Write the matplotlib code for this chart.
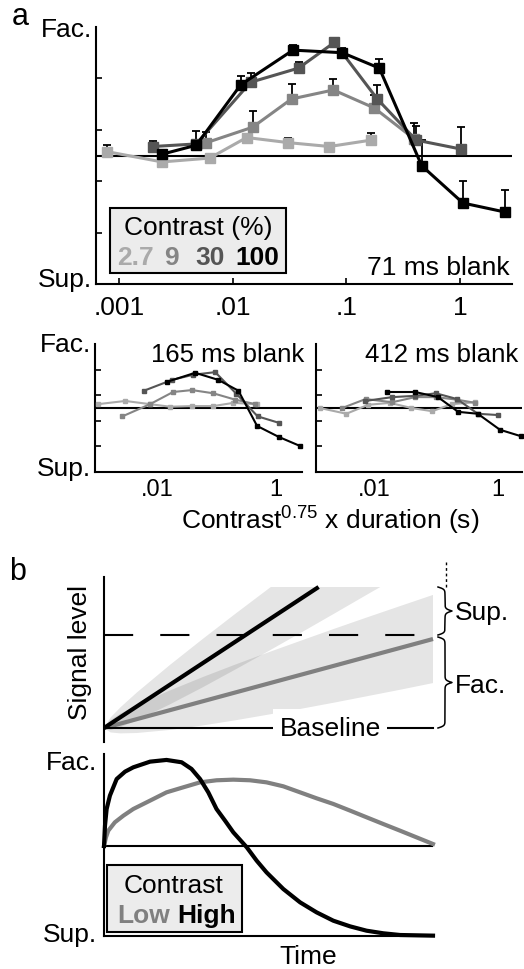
import numpy as np
import matplotlib
matplotlib.use('Agg')
import matplotlib.pyplot as plt
from matplotlib.patches import Rectangle
from matplotlib.ticker import NullLocator

plt.rcParams['font.family'] = ['Liberation Sans', 'DejaVu Sans']
plt.rcParams['font.size'] = 19
plt.rcParams['mathtext.fontset'] = 'custom'
plt.rcParams['mathtext.rm'] = 'Liberation Sans'

W, H = 524, 970

# colours for the four contrasts
c_colors = ['#aaaaaa', '#858585', '#555555', '#000000']
c_labels = ['2.7', '9', '30', '100']

# ---- panel a, 71 ms blank (x: contrast^0.75 x duration, y: normalised effect)
x71_027 = [0.00079, 0.0024, 0.0063, 0.0133, 0.031, 0.071, 0.166]
y71_027 = [0.03, -0.05, -0.02, 0.14, 0.10, 0.07, 0.12]
e71_027 = [0.055, 0.02, 0.025, 0.03, 0.04, 0.03, 0.055]

x71_09 = [0.0059, 0.015, 0.033, 0.077, 0.176, 0.394]
y71_09 = [0.10, 0.22, 0.44, 0.51, 0.37, 0.13]
e71_09 = [0.08, 0.125, 0.12, 0.085, 0.10, 0.12]

x71_30 = [0.0020, 0.0048, 0.0144, 0.038, 0.0785, 0.187, 0.41, 1.02]
y71_30 = [0.07, 0.09, 0.57, 0.68, 0.88, 0.44, 0.12, 0.05]
e71_30 = [0.04, 0.10, 0.07, 0.05, 0.03, 0.11, 0.11, 0.17]

x71_100 = [0.0024, 0.0048, 0.0118, 0.034, 0.092, 0.195, 0.46, 1.06, 2.48]
y71_100 = [0.01, 0.08, 0.55, 0.82, 0.80, 0.68, -0.08, -0.37, -0.44]
e71_100 = [0.03, 0.03, 0.07, 0.04, 0.04, 0.07, 0.20, 0.17, 0.17]

# ---- 165 ms blank
x165_027 = [0.0010, 0.0029, 0.0076, 0.0166, 0.039, 0.089, 0.195, 0.48]
y165_027 = [0.06, 0.11, 0.06, 0.02, 0.03, 0.03, 0.08, 0.06]
x165_09 = [0.0026, 0.0076, 0.0186, 0.039, 0.089, 0.21, 0.46]
y165_09 = [-0.13, 0.06, 0.25, 0.28, 0.23, 0.13, 0.06]
x165_30 = [0.0060, 0.018, 0.041, 0.096, 0.22, 0.50, 1.13]
y165_30 = [0.27, 0.44, 0.52, 0.56, 0.22, -0.13, -0.23]
x165_100 = [0.0148, 0.044, 0.108, 0.237, 0.49, 1.13, 2.56]
y165_100 = [0.41, 0.55, 0.44, 0.27, -0.28, -0.45, -0.59]

# ---- 412 ms blank
x412_027 = [0.0013, 0.0035, 0.0079, 0.0178, 0.040, 0.087, 0.18, 0.44]
y412_027 = [0.0, -0.09, 0.05, 0.08, 0.0, -0.05, 0.06, 0.09]
x412_09 = [0.0030, 0.0072, 0.0195, 0.046, 0.10, 0.22, 0.44]
y412_09 = [0.0, 0.14, 0.09, 0.17, 0.17, 0.13, 0.08]
x412_30 = [0.0071, 0.0195, 0.046, 0.10, 0.22, 0.48, 1.02]
y412_30 = [0.11, 0.17, 0.19, 0.23, 0.14, -0.09, -0.11]
x412_100 = [0.0158, 0.046, 0.108, 0.23, 0.48, 1.10, 2.4]
y412_100 = [0.25, 0.25, 0.17, -0.06, -0.09, -0.34, -0.44]

# ---- panel b, schematic signal (threshold = 1)
slope_low = 0.957
slope_high = 2.324
sig_top = 1.516
# noise bands (edges of the grey wedges)
band_low_t = [0, 0.02, 0.05, 0.1, 0.2, 0.3, 0.4, 0.5, 0.6, 0.7, 0.8, 0.9, 1.0]
band_low_hi = [0, 0.086, 0.154, 0.246, 0.403, 0.547, 0.683, 0.814, 0.941, 1.067, 1.190, 1.311, 1.431]
band_low_lo = [0, -0.048, -0.058, -0.054, -0.021, 0.027, 0.083, 0.144, 0.207, 0.273, 0.342, 0.411, 0.483]
band_high_t_hi = [0, 0.02, 0.05, 0.1, 0.2, 0.3, 0.4, 0.507]
band_high_hi = [0, 0.113, 0.222, 0.382, 0.677, 0.957, 1.230, 1.516]
band_high_t_lo = [0, 0.02, 0.05, 0.1, 0.2, 0.3, 0.4, 0.5, 0.6, 0.7, 0.8, 0.84]
band_high_lo = [0, -0.021, 0.010, 0.082, 0.253, 0.437, 0.630, 0.827, 1.027, 1.230, 1.435, 1.516]

# time courses of the effect
t_high = [0, 0.003, 0.008, 0.018, 0.0385, 0.064, 0.089, 0.140, 0.190, 0.236, 0.266,
          0.292, 0.317, 0.342, 0.368, 0.393, 0.434, 0.464, 0.494, 0.545, 0.596,
          0.646, 0.697, 0.748, 0.798, 0.849, 0.900, 1.0]
eff_high = [0, 0.226, 0.411, 0.56, 0.744, 0.826, 0.874, 0.937, 0.956, 0.93, 0.856,
            0.744, 0.596, 0.411, 0.281, 0.152, -0.015, -0.163, -0.293, -0.478, -0.626,
            -0.737, -0.83, -0.893, -0.941, -0.97, -0.989, -0.996]
t_low = [0, 0.006, 0.013, 0.033, 0.059, 0.089, 0.140, 0.190, 0.241, 0.292, 0.342,
         0.393, 0.444, 0.494, 0.545, 0.596, 0.646, 0.697, 0.748, 0.798, 0.849,
         0.900, 0.950, 1.0]
eff_low = [0, 0.096, 0.170, 0.263, 0.337, 0.411, 0.504, 0.596, 0.652, 0.707, 0.730,
           0.737, 0.730, 0.707, 0.663, 0.596, 0.530, 0.467, 0.393, 0.319, 0.244,
           0.170, 0.096, 0.022]


fig = plt.figure(figsize=(W / 100, H / 100), dpi=100)


def add_ax(l, t, r, b):
    # axes placed by pixel box
    return fig.add_axes([l / W, 1 - b / H, (r - l) / W, (b - t) / H])


def base_style(ax):
    for s in ['top', 'right']:
        ax.spines[s].set_visible(False)
    for s in ['left', 'bottom']:
        ax.spines[s].set_linewidth(1.5)
    ax.tick_params(direction='in', length=4, width=1.2)


# ---------------- panel a, top
ax = add_ax(96, 28, 512, 285)
base_style(ax)
ax.set_xscale('log')
ax.set_xlim(10 ** -3.2, 10 ** 0.456)
ax.set_ylim(-1, 1)
ax.axhline(0, color='k', lw=1.5, zorder=1)
series71 = [(x71_027, y71_027, e71_027), (x71_09, y71_09, e71_09),
            (x71_30, y71_30, e71_30), (x71_100, y71_100, e71_100)]
for (x, y, e), c in zip(series71, c_colors):
    ax.errorbar(x, y, yerr=[np.zeros(len(e)), e], fmt='none', ecolor='k',
                elinewidth=1.3, capsize=3, capthick=1.3, zorder=2)
    ax.plot(x, y, '-s', color=c, lw=2.2, ms=6.5, zorder=3, clip_on=False)
ax.set_xticks([0.001, 0.01, 0.1, 1])
ax.set_xticklabels(['.001', '.01', '.1', '1'])
ax.xaxis.set_minor_locator(NullLocator())
ax.set_yticks([-0.6, -0.2, 0.2, 0.6])
ax.set_yticklabels([])
ax.tick_params(axis='x', labelsize=19, pad=8)

# ---------------- panel a, bottom two
for (l, r, xl), data, title in [
        ((95, 302, (10 ** -3.05, 10 ** 0.45)),
         [(x165_027, y165_027), (x165_09, y165_09), (x165_30, y165_30), (x165_100, y165_100)],
         '165 ms blank'),
        ((316, 522, (10 ** -2.95, 10 ** 0.4)),
         [(x412_027, y412_027), (x412_09, y412_09), (x412_30, y412_30), (x412_100, y412_100)],
         '412 ms blank')]:
    axs = add_ax(l, 345, r, 473)
    base_style(axs)
    axs.set_xscale('log')
    axs.set_xlim(*xl)
    axs.set_ylim(-1, 1)
    axs.axhline(0, color='k', lw=1.5, zorder=1)
    for (x, y), c in zip(data, c_colors):
        axs.plot(x, y, '-s', color=c, lw=1.5, ms=3.5, zorder=3, clip_on=False)
    axs.set_xticks([0.01, 1])
    axs.set_xticklabels(['.01', '1'])
    axs.xaxis.set_minor_locator(NullLocator())
    axs.set_yticks([-0.6, -0.2, 0.2, 0.6])
    axs.set_yticklabels([])
    axs.tick_params(axis='x', labelsize=17, pad=4, length=0)

# ---------------- panel b, signal schematic
axb = add_ax(104, 578, 440, 743)
for s in ['top', 'right', 'bottom']:
    axb.spines[s].set_visible(False)
axb.spines['left'].set_linewidth(1.5)
axb.set_xticks([])
axb.set_yticks([])
axb.set_xlim(0, 336 / 329)
axb.set_ylim(-14 / 93, 151 / 93)
axb.fill(band_low_t + band_low_t[::-1], band_low_hi + band_low_lo[::-1],
         color='k', alpha=0.1, lw=0)
axb.fill(band_high_t_hi + band_high_t_lo[::-1], band_high_hi + band_high_lo[::-1],
         color='k', alpha=0.1, lw=0)
axb.plot([0, 1], [0, slope_low], color='#808080', lw=3, solid_capstyle='butt')
axb.plot([0, sig_top / slope_high], [0, sig_top], color='k', lw=3, solid_capstyle='butt')
axb.plot([0, 0.948], [1, 1], color='k', lw=1.5, dashes=(14, 13))
axb.plot([0, 1], [0, 0], color='k', lw=1.5)
axb.text(0.687, 0, 'Baseline', ha='center', va='center', fontsize=19,
         bbox=dict(boxstyle='square,pad=0.25', fc='white', ec='none'))

# ---------------- panel b, effect time course
axt = add_ax(104, 755, 433, 937)
for s in ['top', 'right']:
    axt.spines[s].set_visible(False)
for s in ['left', 'bottom']:
    axt.spines[s].set_linewidth(1.5)
axt.set_xticks([])
axt.set_yticks([])
axt.set_xlim(0, 1)
axt.set_ylim(-1.0, 1.022)
axt.axhline(0, color='k', lw=1.5)
axt.plot(t_low, eff_low, color='#808080', lw=3, clip_on=False, solid_joinstyle='round')
axt.plot(t_high, eff_high, color='k', lw=3, clip_on=False, solid_joinstyle='round')

# ---------------- overlay for labels in pixel units
ov = fig.add_axes([0, 0, 1, 1], zorder=10)
ov.set_xlim(0, W)
ov.set_ylim(H, 0)
ov.axis('off')
ov.patch.set_alpha(0)

ov.text(20, 17, 'a', fontsize=22, ha='center', va='center')
ov.text(18, 572, 'b', fontsize=22, ha='center', va='center')
for x, y, s in [(92, 37, 'Fac.'), (92, 287, 'Sup.'), (91, 352, 'Fac.'), (91, 476, 'Sup.'),
                (97, 770, 'Fac.'), (97, 942, 'Sup.')]:
    ov.text(x, y, s, ha='right', va='baseline')
ov.text(510, 275, '71 ms blank', ha='right', va='baseline')
ov.text(304, 362, '165 ms blank', ha='right', va='baseline', fontsize=18.5)
ov.text(518, 362, '412 ms blank', ha='right', va='baseline', fontsize=18.5)
ov.text(330, 529, r'Contrast$^{0.75}$ x duration (s)', ha='center', va='baseline')

# legend box, panel a
ov.add_patch(Rectangle((110, 209), 176, 65, fc='#ececec', ec='k', lw=1.5))
ov.text(198, 235, 'Contrast (%)', ha='center', va='baseline')
for x, s, c in zip([117, 164, 195, 235], c_labels, c_colors):
    ov.text(x, 265, s, ha='left', va='baseline', color=c, fontweight='bold')

# signal panel labels
ov.text(80, 653, 'Signal level', rotation=90, ha='center', va='center')
ov.text(455, 620, 'Sup.', ha='left', va='baseline')
ov.text(455, 693, 'Fac.', ha='left', va='baseline')
ov.plot([446, 446], [563, 588], color='k', lw=1, dashes=(2, 2))


def brace(x, y0, y1, w=14, beta=0.9):
    L = y1 - y0
    u = np.linspace(0, L / 2, 200)
    half = 1 / (1 + np.exp(-beta * u)) + 1 / (1 + np.exp(-beta * (u - L / 2))) - 0.5
    xs = x + w * np.concatenate([half, half[::-1]])
    ys = np.concatenate([y0 + u, y1 - u[::-1]])
    ov.plot(xs, ys, color='k', lw=1.1)


brace(438, 588, 636)
brace(438, 638, 729)

# legend box, panel b
ov.add_patch(Rectangle((107, 866), 135, 67, fc='#ececec', ec='k', lw=1.5))
ov.text(174, 893, 'Contrast', ha='center', va='baseline')
ov.text(117, 923, 'Low', ha='left', va='baseline', color='#808080', fontweight='bold')
ov.text(177, 923, 'High', ha='left', va='baseline', color='k', fontweight='bold')
ov.text(308, 964, 'Time', ha='center', va='baseline')

fig.savefig('out.png', dpi=100)
